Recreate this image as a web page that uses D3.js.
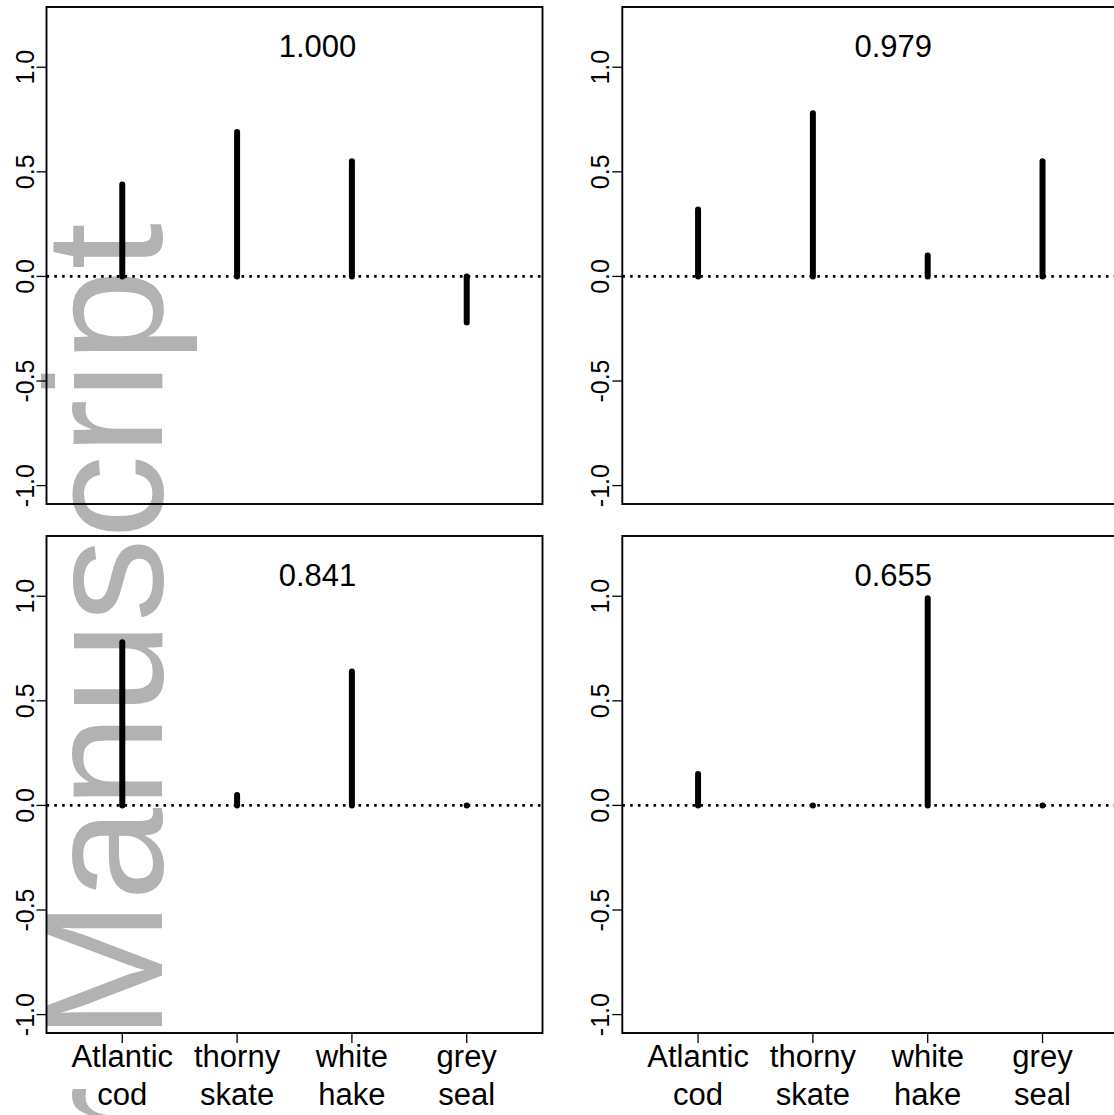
<!DOCTYPE html>
<html>
<head>
<meta charset="utf-8">
<script src="https://cdnjs.cloudflare.com/ajax/libs/d3/7.8.5/d3.min.js"></script>
<style>
body { margin: 0; background: #ffffff; }
text { font-family: "Liberation Sans", Arial, Helvetica, sans-serif; }
</style>
</head>
<body>
<script>
// species on the x axis (split on the space for two-line labels)
var species = ["Atlantic cod", "thorny skate", "white hake", "grey seal"];

// number printed on top of each panel
var panel_labels = ["1.000", "0.979", "0.841", "0.655"];

// stem heights (top-left, top-right, bottom-left, bottom-right)
var values_1 = [0.44, 0.69, 0.55, -0.22];
var values_2 = [0.32, 0.78, 0.10, 0.55];
var values_3 = [0.78, 0.05, 0.64, 0.00];
var values_4 = [0.15, 0.00, 0.99, 0.00];

// y axis ticks
var y_ticks = [-1, -0.5, 0, 0.5, 1];

// grey text in the left margin
var watermark = "NIH-PA Author Manuscript";

var W = 1114, H = 1115;

// panel size and origins
var pw = 496, ph = 497;
var col_x = [46.5, 622.3];
var row_y = [7, 536];

// R style 4% axis expansion
function expand(lim){
  var d = (lim[1] - lim[0]) * 0.04;
  return [lim[0] - d, lim[1] + d];
}

var svg = d3.select("body").append("svg")
  .attr("width", W)
  .attr("height", H);

svg.append("rect")
  .attr("width", W)
  .attr("height", H)
  .attr("fill", "#ffffff");

// watermark sits behind everything
svg.append("text")
  .attr("transform", "translate(162,223) rotate(-90)")
  .attr("text-anchor", "end")
  .style("font-size", "167px")
  .style("fill", "#b2b2b2")
  .text(watermark);

var panels = [
  {vals: values_1, label: panel_labels[0], x0: col_x[0], y0: row_y[0], xaxis: false},
  {vals: values_2, label: panel_labels[1], x0: col_x[1], y0: row_y[0], xaxis: false},
  {vals: values_3, label: panel_labels[2], x0: col_x[0], y0: row_y[1], xaxis: true},
  {vals: values_4, label: panel_labels[3], x0: col_x[1], y0: row_y[1], xaxis: true}
];

function draw_panel(p){
  var x = d3.scaleLinear().domain(expand([0.5, 4.5])).range([p.x0, p.x0 + pw]);
  var y = d3.scaleLinear().domain(expand([-1, 1.2])).range([p.y0 + ph, p.y0]);

  var g = svg.append("g");

  // dotted zero line
  g.append("line")
    .attr("x1", p.x0)
    .attr("x2", p.x0 + pw)
    .attr("y1", y(0))
    .attr("y2", y(0))
    .attr("stroke", "#000")
    .attr("stroke-width", 2.6)
    .attr("stroke-dasharray", "2.6,5.2");

  // stems
  g.selectAll("line.stem")
    .data(p.vals)
    .enter()
    .append("line")
    .attr("class", "stem")
    .attr("x1", function(d, i){ return x(i + 1); })
    .attr("x2", function(d, i){ return x(i + 1); })
    .attr("y1", y(0))
    .attr("y2", function(d){ return y(d); })
    .attr("stroke", "#000")
    .attr("stroke-width", 6)
    .attr("stroke-linecap", "round");

  // box
  g.append("rect")
    .attr("x", p.x0)
    .attr("y", p.y0)
    .attr("width", pw)
    .attr("height", ph)
    .attr("fill", "none")
    .attr("stroke", "#000")
    .attr("stroke-width", 1.9);

  // y ticks
  g.selectAll("line.ytick")
    .data(y_ticks)
    .enter()
    .append("line")
    .attr("class", "ytick")
    .attr("x1", p.x0 - 10)
    .attr("x2", p.x0)
    .attr("y1", function(d){ return y(d); })
    .attr("y2", function(d){ return y(d); })
    .attr("stroke", "#000")
    .attr("stroke-width", 1.3);

  g.selectAll("text.ylab")
    .data(y_ticks)
    .enter()
    .append("text")
    .attr("class", "ylab")
    .attr("transform", function(d){
      return "translate(" + (p.x0 - 13) + "," + y(d) + ") rotate(-90)";
    })
    .attr("text-anchor", "middle")
    .style("font-size", "25px")
    .text(function(d){ return d.toFixed(1); });

  // panel number
  g.append("text")
    .attr("x", x(2.7))
    .attr("y", y(1.1))
    .attr("dy", "0.36em")
    .attr("text-anchor", "middle")
    .style("font-size", "31px")
    .text(p.label);

  if(p.xaxis){
    g.selectAll("line.xtick")
      .data(species)
      .enter()
      .append("line")
      .attr("class", "xtick")
      .attr("x1", function(d, i){ return x(i + 1); })
      .attr("x2", function(d, i){ return x(i + 1); })
      .attr("y1", p.y0 + ph)
      .attr("y2", p.y0 + ph + 10)
      .attr("stroke", "#000")
      .attr("stroke-width", 1.3);

    var lab = g.selectAll("text.xlab")
      .data(species)
      .enter()
      .append("text")
      .attr("class", "xlab")
      .attr("text-anchor", "middle")
      .style("font-size", "31px");

    lab.append("tspan")
      .attr("x", function(d, i){ return x(i + 1); })
      .attr("y", p.y0 + ph + 34)
      .text(function(d){ return d.split(" ")[0]; });

    lab.append("tspan")
      .attr("x", function(d, i){ return x(i + 1); })
      .attr("y", p.y0 + ph + 72)
      .text(function(d){ return d.split(" ")[1]; });
  }
}

panels.forEach(draw_panel);
</script>
</body>
</html>
